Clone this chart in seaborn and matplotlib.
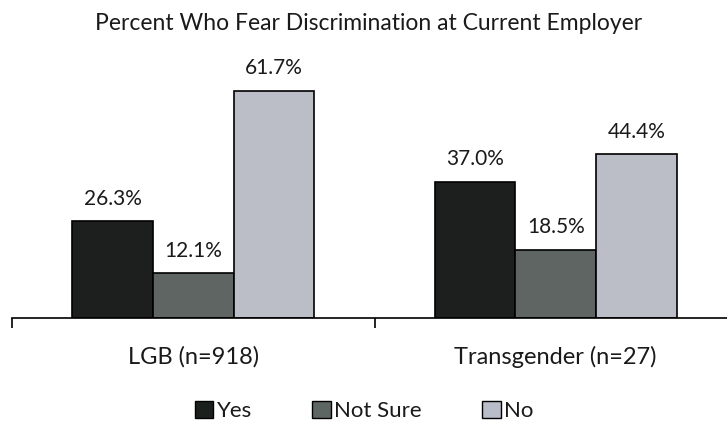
import matplotlib
matplotlib.use("Agg")
import matplotlib.pyplot as plt
import seaborn as sns
import pandas as pd
from matplotlib.patches import Patch

groups = ["LGB (n=918)", "Transgender (n=27)"]
responses = ["Yes", "Not Sure", "No"]
yes_vals = [26.3, 37.0]
not_sure_vals = [12.1, 18.5]
no_vals = [61.7, 44.4]
colors = ["#1b201d", "#5e6663", "#b9bcc9"]

rows = []
for i, g in enumerate(groups):
    for r, vals in zip(responses, [yes_vals, not_sure_vals, no_vals]):
        rows.append({"group": g, "response": r, "pct": vals[i]})
df = pd.DataFrame(rows)

sns.set_theme(style="white")
plt.rcParams["font.family"] = ["Lato", "DejaVu Sans"]
text_color = "#1a1a1a"

fig = plt.figure(figsize=(7.27, 4.26), dpi=100)
ax = fig.add_axes([12 / 727, 108 / 426, 725 / 727, 258 / 426])

sns.barplot(data=df, x="group", y="pct", hue="response", order=groups,
            hue_order=responses, palette=colors, width=0.667, gap=0,
            edgecolor="black", linewidth=1.2, ax=ax, legend=False)

ax.set_ylim(0, 70)
ax.set_xlim(-0.5, 1.5)
ax.set_xlabel("")
ax.set_ylabel("")
ax.set_yticks([])
for s in ["top", "right", "left"]:
    ax.spines[s].set_visible(False)
ax.spines["bottom"].set_color("black")
ax.spines["bottom"].set_linewidth(1.2)

ax.set_xticks([0, 1])
ax.set_xticklabels(groups, fontsize=17, color=text_color)
ax.tick_params(axis="x", which="major", length=0, pad=20)
ax.set_xticks([-0.5, 0.5, 1.5], minor=True)
ax.tick_params(axis="x", which="minor", length=7, width=1.2, color="black",
               direction="out", bottom=True)

for container in ax.containers:
    for bar in container:
        h = bar.get_height()
        ax.annotate(f"{h:.1f}%", (bar.get_x() + bar.get_width() / 2, h),
                    xytext=(0, 9), textcoords="offset points",
                    ha="center", va="bottom", fontsize=15, color=text_color)

fig.text(369 / 727, 1 - 23 / 426, "Percent Who Fear Discrimination at Current Employer",
         ha="center", va="center", fontsize=16.5, color=text_color)

handles = [Patch(facecolor=c, edgecolor="black", linewidth=1.0) for c in colors]
leg = fig.legend(handles, responses, loc="center", bbox_to_anchor=(364 / 727, 1 - 411 / 426),
                 ncol=3, frameon=False, fontsize=16, handlelength=0.85, handleheight=0.85,
                 handletextpad=0.15, columnspacing=2.7)
for t in leg.get_texts():
    t.set_color(text_color)

fig.savefig("out.png", dpi=100)
